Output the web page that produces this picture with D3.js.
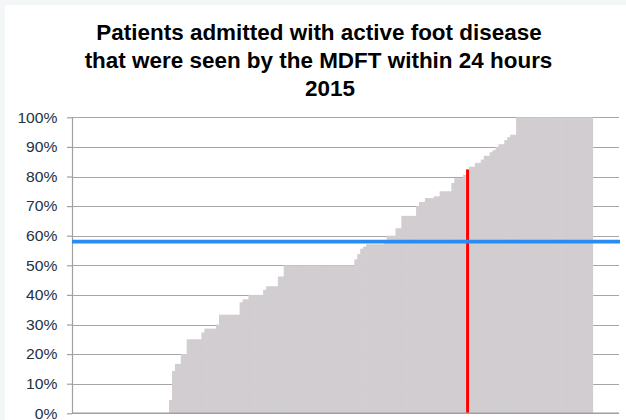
<!DOCTYPE html>
<html>
<head>
<meta charset="utf-8">
<script src="https://cdn.jsdelivr.net/npm/d3@7"></script>
<style>
  html, body { margin: 0; padding: 0; background: #f4f7f7; }
  svg { display: block; }
</style>
</head>
<body>
<svg id="chart" width="626" height="420"></svg>
<script>
// ---- data ----
const titleLines = ["Patients admitted with active foot disease", "that were seen by the MDFT within 24 hours", "2015"];
// per-hospital percentage seen within 24 hours (sorted); null = no data
const values = [
  null,null,null,null,null,null,null,null,null,null,null,null,null,null,null,null,null,null,null,null,
  null,null,null,null,null,null,null,null,null,null,null,null,null,
  4.5, 14.3, 16.7, 16.7, 20, 20, 25, 25, 25, 25, 25, 27.3, 28.6, 28.6, 28.6, 28.6, 30,
  33.3, 33.3, 33.3, 33.3, 33.3, 33.3, 33.3, 37.5, 38.5, 38.5, 40, 40, 40, 40, 40, 41.7,
  42.9, 42.9, 42.9, 42.9, 46.2, 46.2,
  50, 50, 50, 50, 50, 50, 50, 50, 50, 50, 50, 50, 50, 50, 50, 50, 50, 50, 50, 50, 50, 50, 50, 50,
  52, 53.8, 55.6, 56.3, 57.1, 57.1, 57.1, 57.1, 57.1, 57.1, 58.3, 60, 60, 60, 62.5, 62.5,
  66.7, 66.7, 66.7, 66.7, 66.7, 70, 71.4, 71.4, 72.7, 72.7, 72.7, 73.3, 73.3, 75, 75, 75, 75,
  77.8, 79.4, 79.4, 79.4, 80.6, 82.4, 83.3, 83.3, 84.6, 84.6, 85.7, 87, 87, 88.2, 88.9, 90,
  90.9, 90.9, 92.3, 93.3, 94.1, 94.1,
  100, 100, 100, 100, 100, 100, 100, 100, 100, 100, 100, 100, 100, 100, 100, 100, 100, 100, 100, 100,
  100, 100, 100, 100, 100, 100,
  null,null,null,null,null,null,null,null,null
];
const categories = values.map((d, i) => "Hospital " + (i + 1));
const highlightCategory = "Hospital 135";   // the highlighted unit (red)
const targetValue = 58;                      // national average line (blue)
const yTicks = [0, 10, 20, 30, 40, 50, 60, 70, 80, 90, 100];

// ---- layout ----
const svg = d3.select("#chart");
const W = 626, H = 420;
const plot = { left: 72, right: 619, top: 117.3, bottom: 413.3 };

svg.append("rect").attr("x", 5).attr("y", 5).attr("width", W - 5).attr("height", H - 5).attr("fill", "#ffffff");

const x = d3.scaleBand().domain(categories).range([plot.left, plot.right]).padding(0);
const y = d3.scaleLinear().domain([0, 100]).range([plot.bottom, plot.top]);

// gridlines
svg.append("g").selectAll("line").data(yTicks).join("line")
  .attr("x1", plot.left).attr("x2", plot.right)
  .attr("y1", d => Math.round(y(d)) + 0.5).attr("y2", d => Math.round(y(d)) + 0.5)
  .attr("stroke", "#a6a6a6").attr("stroke-width", 1.2);

// bars
const data = categories.map((c, i) => ({ c, v: values[i] })).filter(d => d.v != null);
svg.append("g").selectAll("rect").data(data.filter(d => d.c !== highlightCategory)).join("rect")
  .attr("x", d => x(d.c))
  .attr("width", x.bandwidth() + 0.6)
  .attr("y", d => y(d.v))
  .attr("height", d => y(0) - y(d.v))
  .attr("fill", "#d1cdd0");

// highlighted bar
svg.append("g").selectAll("rect").data(data.filter(d => d.c === highlightCategory)).join("rect")
  .attr("x", d => x(d.c))
  .attr("width", x.bandwidth())
  .attr("y", d => y(d.v))
  .attr("height", d => y(0) - y(d.v))
  .attr("fill", "#ff0000");

// y axis
const yAxis = d3.axisLeft(y).tickValues(yTicks).tickFormat(d => d + "%").tickSize(5).tickSizeOuter(0).tickPadding(9);
const gy = svg.append("g").attr("transform", `translate(${plot.left},0)`).call(yAxis);
gy.select(".domain").attr("stroke", "#a0a0a0").attr("stroke-width", 1.2);
gy.selectAll(".tick line").attr("stroke", "#a0a0a0").attr("stroke-width", 1.2);
gy.selectAll(".tick text")
  .attr("font-family", "'Liberation Sans', Arial, sans-serif")
  .attr("font-size", 14.5)
  .attr("fill", "#233244")
  .attr("transform", "scale(1.08,1)")
  .attr("x", -13.5)
  .attr("dy", "0.33em");

// bottom axis line
svg.append("line")
  .attr("x1", plot.left).attr("x2", plot.right)
  .attr("y1", y(0)).attr("y2", y(0))
  .attr("stroke", "#a0a0a0").attr("stroke-width", 1.4);

// target line
svg.append("line")
  .attr("x1", plot.left).attr("x2", 620)
  .attr("y1", y(targetValue)).attr("y2", y(targetValue))
  .attr("stroke", "#2a8cf0").attr("stroke-width", 3.6);

// title
const titleX = [319, 318.5, 330];
const titleY = [40, 68, 96];
svg.append("g").selectAll("text").data(titleLines).join("text")
  .attr("transform", (d, i) => `translate(${titleX[i]},${titleY[i]}) scale(1.045,1)`)
  .attr("text-anchor", "middle")
  .attr("font-family", "'Liberation Sans', Arial, sans-serif")
  .attr("font-weight", "bold")
  .attr("font-size", 21.5)
  .attr("fill", "#000000")
  .text(d => d);
</script>
</body>
</html>
